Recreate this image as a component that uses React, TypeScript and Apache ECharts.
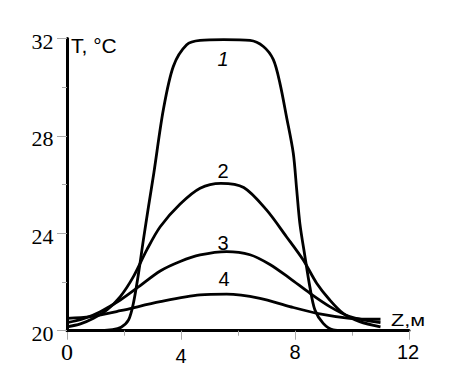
import React, { useEffect, useRef } from "react";
import * as echarts from "echarts";

const xTicks = [0, 4, 8, 12];
const yTicks = [20, 24, 28, 32];
const curveNames = ["1", "2", "3", "4"];

const curve1: [number, number][] = [
  [0, 20.0], [1.0, 20.0], [1.6, 20.04], [1.9, 20.14], [2.16, 20.44], [2.33, 21.13],
  [2.51, 22.36], [2.68, 23.73], [2.86, 25.1], [3.05, 26.5], [3.38, 29.07], [3.73, 30.85],
  [4.2, 31.74], [4.67, 31.92], [5.5, 31.95], [6.42, 31.92], [6.89, 31.67], [7.24, 31.13],
  [7.47, 30.17], [7.7, 28.8], [7.94, 27.29], [8.06, 25.78], [8.17, 24.41], [8.35, 23.04],
  [8.52, 21.81], [8.7, 20.85], [8.99, 20.3], [9.34, 20.03], [9.7, 20.0], [11, 20.0],
];
const curve2: [number, number][] = [
  [0, 20.16], [0.47, 20.28], [0.93, 20.51], [1.4, 20.85], [1.87, 21.4], [2.33, 22.22],
  [2.8, 23.32], [3.27, 24.27], [3.97, 25.2], [4.67, 25.85], [5.4, 26.05], [6.2, 25.88],
  [7.0, 24.96], [7.7, 23.86], [8.29, 22.9], [8.76, 21.95], [9.22, 21.26], [9.69, 20.71],
  [10.27, 20.37], [11, 20.16],
];
const curve3: [number, number][] = [
  [0, 20.33], [0.6, 20.5], [1.17, 20.78], [1.87, 21.26], [2.57, 21.85], [3.27, 22.45],
  [3.97, 22.84], [4.67, 23.11], [5.6, 23.25], [6.42, 23.12], [7.12, 22.72], [7.82, 22.15],
  [8.52, 21.54], [9.22, 20.99], [9.92, 20.58], [11, 20.33],
];
const curve4: [number, number][] = [
  [0, 20.51], [0.82, 20.58], [1.87, 20.82], [3.27, 21.19], [4.67, 21.47], [5.6, 21.5],
  [6.77, 21.33], [7.82, 20.99], [8.87, 20.69], [9.92, 20.51], [11, 20.47],
];

const SERIF = "Liberation Serif";
const SANS = "Liberation Sans";

export default function App() {
  const ref = useRef<HTMLDivElement>(null);
  useEffect(() => {
    if (!ref.current) return;
    const chart = echarts.init(ref.current, null, { renderer: "svg" });
    const lineStyle = { color: "#000", width: 2.8 };
    const mk = (name: string, data: [number, number][]) => ({
      name,
      type: "line",
      data,
      smooth: 0.3,
      showSymbol: false,
      symbol: "none",
      lineStyle,
      z: 3,
    });
    const fixed = [
      { id: "yname", type: "text", left: 71, top: 35, style: { text: "T, °C", fontFamily: SANS, fontSize: 21, fill: "#000" } },
      { id: "xname", type: "text", x: 391, y: 313, scaleX: 1.35, style: { text: "Z,м", fontFamily: SANS, fontSize: 16, fill: "#000" } },
      { id: "c1", type: "text", x: 223, y: 59, style: { text: curveNames[0], fontFamily: SANS, fontStyle: "italic", fontSize: 20, fill: "#000", align: "center", verticalAlign: "middle" } },
      { id: "c2", type: "text", x: 223, y: 171, style: { text: curveNames[1], fontFamily: SANS, fontSize: 20, fill: "#000", align: "center", verticalAlign: "middle" } },
      { id: "c3", type: "text", x: 223, y: 243, style: { text: curveNames[2], fontFamily: SANS, fontSize: 20, fill: "#000", align: "center", verticalAlign: "middle" } },
      { id: "c4", type: "text", x: 224, y: 279, style: { text: curveNames[3], fontFamily: SANS, fontSize: 20, fill: "#000", align: "center", verticalAlign: "middle" } },
    ];
    chart.setOption({
      animation: false,
      backgroundColor: "#fff",
      grid: { left: 67, right: 42, top: 38.5, bottom: 49.3, containLabel: false },
      xAxis: {
        type: "value",
        min: xTicks[0],
        max: xTicks[xTicks.length - 1],
        interval: 4,
        axisLine: { show: true, onZero: false, lineStyle: { color: "#000", width: 3 } },
        axisTick: { show: true, length: 9, lineStyle: { color: "#aaa", width: 1 } },
        minorTick: { show: true, splitNumber: 2, length: 5, lineStyle: { color: "#aaa", width: 1 } },
        splitLine: { show: false },
        axisLabel: { show: false },
      },
      yAxis: {
        type: "value",
        min: yTicks[0],
        max: yTicks[yTicks.length - 1],
        interval: 4,
        axisLine: { show: true, onZero: false, lineStyle: { color: "#000", width: 3 } },
        axisTick: { show: true, length: 10, lineStyle: { color: "#aaa", width: 1 } },
        minorTick: { show: true, splitNumber: 2, length: 5, lineStyle: { color: "#aaa", width: 1 } },
        splitLine: { show: false },
        axisLabel: { show: false },
      },
      series: [
        mk(curveNames[0], curve1),
        mk(curveNames[1], curve2),
        mk(curveNames[2], curve3),
        mk(curveNames[3], curve4),
      ],
      graphic: fixed,
    });
    const tickTexts: any[] = [];
    yTicks.forEach((v) => {
      const p = chart.convertToPixel({ gridIndex: 0 }, [xTicks[0], v]) as number[];
      tickTexts.push({
        id: "yt" + v, type: "text", x: p[0] - 13.5, y: p[1] + 3,
        style: { text: String(v), fontFamily: SERIF, fontSize: 22, fill: "#000", align: "right", verticalAlign: "middle" },
      });
    });
    xTicks.forEach((v, i) => {
      const p = chart.convertToPixel({ gridIndex: 0 }, [v, yTicks[0]]) as number[];
      const serif = i === 0;
      const dy = i === 0 ? 21 : i === 1 ? 25 : 21;
      tickTexts.push({
        id: "xt" + v, type: "text", x: p[0] + (i === 3 ? -1 : 0), y: p[1] + dy,
        style: { text: String(v), fontFamily: serif ? SERIF : SANS, fontSize: serif ? 24 : 20, fill: "#000", align: "center", verticalAlign: "middle" },
      });
    });
    chart.setOption({ graphic: [...fixed, ...tickTexts] });
    return () => chart.dispose();
  }, []);
  return <div ref={ref} style={{ position: "absolute", left: 0, top: 0, width: 451, height: 380 }} />;
}
